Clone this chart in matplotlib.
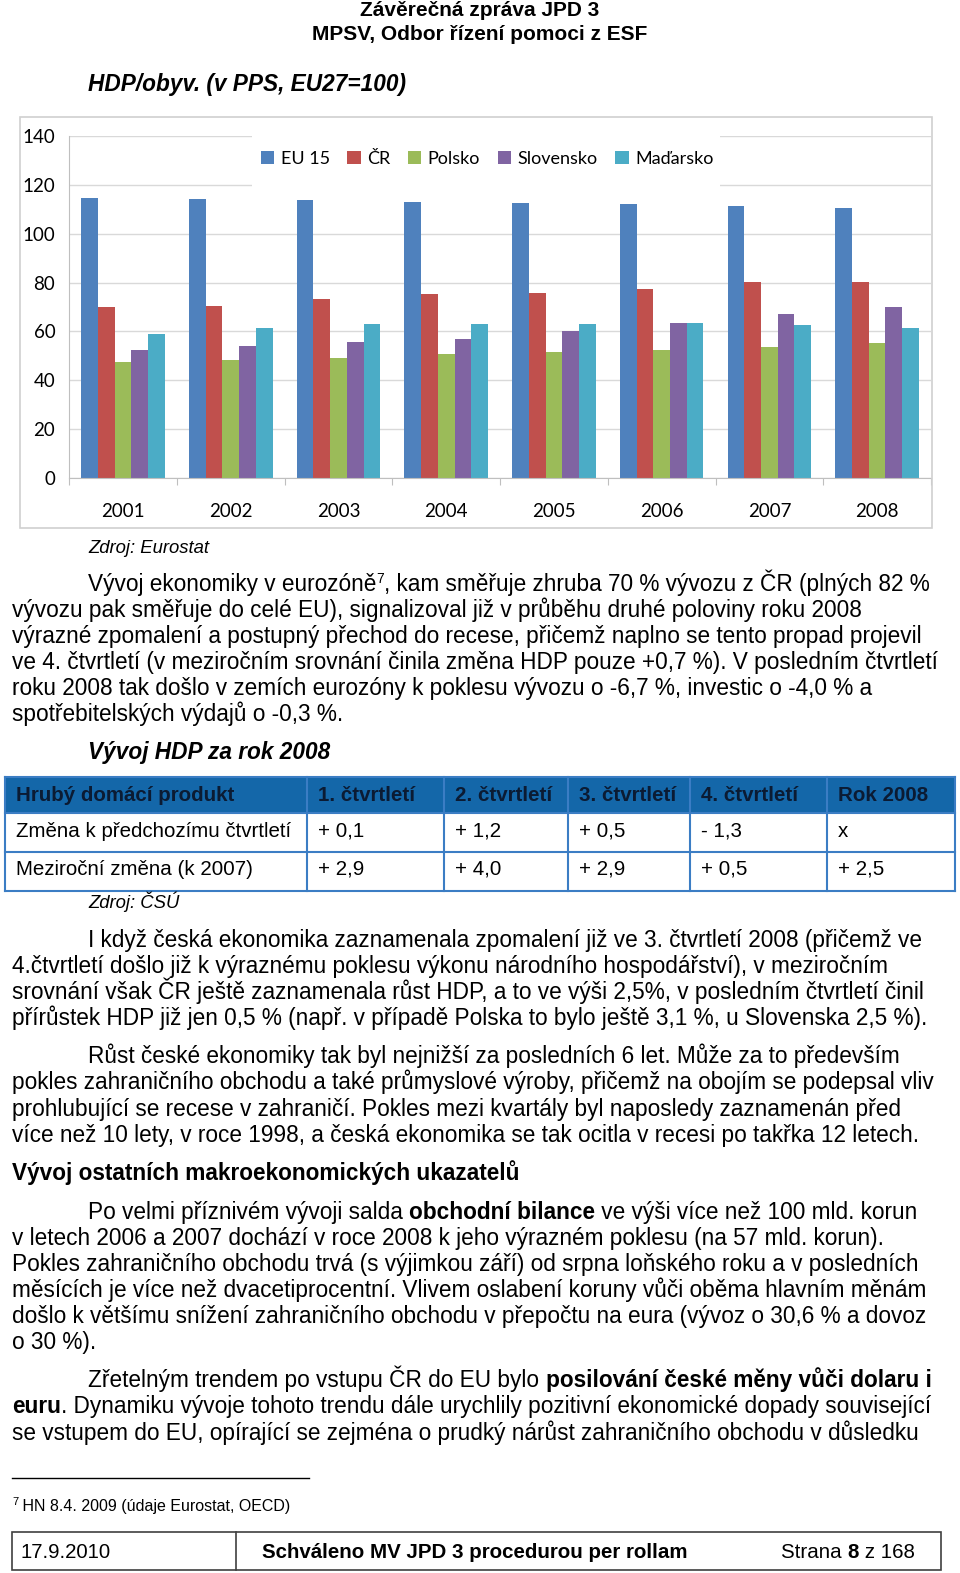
import numpy as np
import matplotlib
matplotlib.use("Agg")
import matplotlib.pyplot as plt
from matplotlib.patches import Rectangle, Patch
from matplotlib.lines import Line2D

# chart data: HDP/obyv. v PPS (EU27=100)
years = ["2001", "2002", "2003", "2004", "2005", "2006", "2007", "2008"]
countries = ["EU 15", "ČR", "Polsko", "Slovensko", "Maďarsko"]
eu15 = [114.8, 114.3, 113.8, 113.2, 112.7, 112.1, 111.6, 110.5]
cr = [70.0, 70.4, 73.4, 75.2, 75.7, 77.4, 80.1, 80.1]
polsko = [47.6, 48.3, 48.9, 50.6, 51.4, 52.4, 53.7, 55.1]
slovensko = [52.4, 54.0, 55.5, 57.0, 60.3, 63.6, 67.0, 70.1]
madarsko = [58.8, 61.3, 63.2, 63.2, 63.2, 63.6, 62.5, 61.5]
yticks = [0, 20, 40, 60, 80, 100, 120, 140]

# table data
tab_header = ["Hrubý domácí produkt", "1. čtvrtletí", "2. čtvrtletí",
              "3. čtvrtletí", "4. čtvrtletí", "Rok 2008"]
tab_row1 = ["Změna k předchozímu čtvrtletí", "+ 0,1", "+ 1,2", "+ 0,5", "- 1,3", "x"]
tab_row2 = ["Meziroční změna (k 2007)", "+ 2,9", "+ 4,0", "+ 2,9", "+ 0,5", "+ 2,5"]

W, H = 960, 1573
S = 1573 / 1568  # page positions below are measured on the 957x1568 preview
BODY = ["Liberation Sans", "DejaVu Sans"]
CHART = ["Lato", "DejaVu Sans"]
colors = ["#4F81BD", "#C0504D", "#9BBB59", "#8064A2", "#4BACC6"]
FS = 16.3  # body text size

fig = plt.figure(figsize=(W / 100, H / 100), dpi=100)
renderer = fig.canvas.get_renderer()


def fx(x):
    return x * S / W


def fy(y):
    return 1 - y * S / H


def fh(h):
    return h * S / H


def width_of(s, **kw):
    a = fig.text(0, 0, "|" + s + "|", fontfamily=BODY, **kw)
    b = fig.text(0, 0, "||", fontfamily=BODY, **kw)
    w = a.get_window_extent(renderer).width - b.get_window_extent(renderer).width
    a.remove()
    b.remove()
    return w


def runs(x, y, parts, size=FS):
    # parts: list of (text, weight) or (text, weight, size, dy)
    for p in parts:
        txt, weight = p[0], p[1]
        sz = p[2] if len(p) > 2 else size
        dy = p[3] if len(p) > 3 else 0
        fig.text(fx(x), fy(y + dy), txt, fontsize=sz, fontweight=weight,
                 fontfamily=BODY, va="baseline", ha="left")
        x += width_of(txt, fontsize=sz, fontweight=weight) / S


def line(x, y, s, size=FS, **kw):
    fig.text(fx(x), fy(y), s, fontsize=size, fontfamily=BODY,
             va="baseline", ha="left", **kw)


# header
fig.text(fx(478), fy(16), "Závěrečná zpráva JPD 3", fontsize=15, fontweight="bold",
         fontfamily=BODY, ha="center", va="baseline")
fig.text(fx(478), fy(40), "MPSV, Odbor řízení pomoci z ESF", fontsize=15, fontweight="bold",
         fontfamily=BODY, ha="center", va="baseline")
line(88, 91, "HDP/obyv. (v PPS, EU27=100)", size=16.3, fontweight="bold", fontstyle="italic")

# chart frame
fig.patches.append(Rectangle((fx(20), fy(526)), fx(909), fh(409), transform=fig.transFigure,
                             fill=False, edgecolor="#D0D0D0", lw=1.2))

ax = fig.add_axes([fx(69), fy(476), fx(859), fh(340)])
series = [eu15, cr, polsko, slovensko, madarsko]
x = np.arange(len(years))
bw = 0.155
for i, vals in enumerate(series):
    ax.bar(x + (i - 2) * bw, vals, bw, color=colors[i], zorder=2)
ax.set_xlim(-0.5, len(years) - 0.5)
ax.set_ylim(0, 140)
ax.set_yticks(yticks)
ax.set_yticklabels([str(v) for v in yticks], fontfamily=CHART, fontsize=13.5)
ax.set_xticks(np.arange(len(years) + 1) - 0.5)
ax.set_xticklabels([])
ax.set_xticks(x, minor=True)
ax.set_xticklabels(years, minor=True, fontfamily=CHART, fontsize=13.5)
ax.tick_params(axis="x", which="major", length=5, color="#BFBFBF", direction="out")
ax.tick_params(axis="x", which="minor", length=0, pad=18.5)
ax.tick_params(axis="y", length=0, pad=10)
ax.grid(axis="y", color="#D9D9D9", lw=1, zorder=0)
for s in ["top", "right"]:
    ax.spines[s].set_visible(False)
ax.spines["left"].set_color("#BFBFBF")
ax.spines["bottom"].set_color("#BFBFBF")
ax.set_axisbelow(True)

# white area behind the legend hides the gridlines
ax.add_patch(Rectangle((fx(251), fy(190)), fx(467), fh(58), transform=fig.transFigure,
                       facecolor="white", edgecolor="none", zorder=1, clip_on=False))
handles = [Patch(facecolor=c, edgecolor="none") for c in colors]
leg = ax.legend(handles, countries, ncol=5, loc="center left",
                bbox_to_anchor=(fx(260), fy(158)), bbox_transform=fig.transFigure,
                frameon=False, prop={"family": CHART, "size": 13}, handlelength=0.75,
                handleheight=0.75, handletextpad=0.35, columnspacing=0.97,
                borderpad=0, borderaxespad=0)

# source
line(88, 551, "Zdroj: Eurostat", size=13.3, fontstyle="italic")

# paragraph 1
runs(88, 589, [("Vývoj ekonomiky v eurozóně", "normal"), ("7", "normal", 10, -8),
               (", kam směřuje zhruba 70 % vývozu z ČR (plných 82 %", "normal")])
p1 = ["vývozu pak směřuje do celé EU), signalizoval již v průběhu druhé poloviny roku 2008",
      "výrazné zpomalení a postupný přechod do recese, přičemž naplno se tento propad projevil",
      "ve 4. čtvrtletí (v meziročním srovnání činila změna HDP pouze +0,7 %). V posledním čtvrtletí",
      "roku 2008 tak došlo v zemích eurozóny k poklesu vývozu o -6,7 %, investic o -4,0 % a",
      "spotřebitelských výdajů o -0,3 %."]
for i, s in enumerate(p1):
    line(12, 615 + 26 * i, s)

line(88, 757, "Vývoj HDP za rok 2008", size=16.3, fontweight="bold", fontstyle="italic")

# table
cols = [5, 306, 443, 566, 688, 824, 952]
rows = [775, 810, 849, 888]
fig.patches.append(Rectangle((fx(5), fy(810)), fx(947), fh(35), transform=fig.transFigure,
                             facecolor="#1467A9", edgecolor="none"))
for r in rows:
    fig.add_artist(Line2D([fx(5), fx(952)], [fy(r), fy(r)], color="#3B7DC4", lw=1.5))
for c in cols:
    fig.add_artist(Line2D([fx(c), fx(c)], [fy(775), fy(888)], color="#3B7DC4", lw=1.5))
for j, txt in enumerate(tab_header):
    line(cols[j] + 11, 798, txt, size=14.8, fontweight="bold", color="#0B1B33")
for j, txt in enumerate(tab_row1):
    line(cols[j] + 11, 834, txt, size=14.8)
for j, txt in enumerate(tab_row2):
    line(cols[j] + 11, 872, txt, size=14.8)
line(88, 905, "Zdroj: ČSÚ", size=13.3, fontstyle="italic")

# paragraph 2
p2 = ["4.čtvrtletí došlo již k výraznému poklesu výkonu národního hospodářství), v meziročním",
      "srovnání však ČR ještě zaznamenala růst HDP, a to ve výši 2,5%, v posledním čtvrtletí činil",
      "přírůstek HDP již jen 0,5 % (např. v případě Polska to bylo ještě 3,1 %, u Slovenska 2,5 %)."]
line(88, 944, "I když česká ekonomika zaznamenala zpomalení již ve 3. čtvrtletí 2008 (přičemž ve")
for i, s in enumerate(p2):
    line(12, 970 + 26 * i, s)

# paragraph 3
p3 = ["pokles zahraničního obchodu a také průmyslové výroby, přičemž na obojím se podepsal vliv",
      "prohlubující se recese v zahraničí. Pokles mezi kvartály byl naposledy zaznamenán před",
      "více než 10 lety, v roce 1998, a česká ekonomika se tak ocitla v recesi po takřka 12 letech."]
line(88, 1060, "Růst české ekonomiky tak byl nejnižší za posledních 6 let. Může za to především")
for i, s in enumerate(p3):
    line(12, 1086 + 26 * i, s)

line(12, 1176, "Vývoj ostatních makroekonomických ukazatelů", fontweight="bold")

# paragraph 4
runs(88, 1215, [("Po velmi příznivém vývoji salda ", "normal"), ("obchodní bilance", "bold"),
                (" ve výši více než 100 mld. korun", "normal")])
p4 = ["v letech 2006 a 2007 dochází v roce 2008 k jeho výrazném poklesu (na 57 mld. korun).",
      "Pokles zahraničního obchodu trvá (s výjimkou září) od srpna loňského roku a v posledních",
      "měsících je více než dvacetiprocentní. Vlivem oslabení koruny vůči oběma hlavním měnám",
      "došlo k většímu snížení zahraničního obchodu v přepočtu na eura (vývoz o 30,6 % a dovoz",
      "o 30 %)."]
for i, s in enumerate(p4):
    line(12, 1241 + 26 * i, s)

# paragraph 5
runs(88, 1383, [("Zřetelným trendem po vstupu ČR do EU bylo ", "normal"),
                ("posilování české měny vůči dolaru i", "bold")])
runs(12, 1409, [("euru", "bold"),
                (". Dynamiku vývoje tohoto trendu dále urychlily pozitivní ekonomické dopady související", "normal")])
line(12, 1435, "se vstupem do EU, opírající se zejména o prudký nárůst zahraničního obchodu v důsledku")

# footnote
fig.add_artist(Line2D([fx(12), fx(308)], [fy(1473), fy(1473)], color="black", lw=1))
runs(12, 1506, [("7", "normal", 8, -6), (" HN 8.4. 2009 (údaje Eurostat, OECD)", "normal", 11.5)])

# footer box
fig.patches.append(Rectangle((fx(12), fy(1565)), fx(926), fh(38), transform=fig.transFigure,
                             fill=False, edgecolor="#404040", lw=1.2))
fig.add_artist(Line2D([fx(235), fx(235)], [fy(1527), fy(1565)], color="#404040", lw=1.2))
line(20, 1553, "17.9.2010", size=14.7)
fig.text(fx(473), fy(1553), "Schváleno MV JPD 3 procedurou per rollam", fontsize=14.8,
         fontweight="bold", fontfamily=BODY, ha="center", va="baseline")
runs(779, 1553, [("Strana ", "normal"), ("8", "bold"), (" z 168", "normal")], size=14.8)

fig.savefig("out.png", dpi=100)
